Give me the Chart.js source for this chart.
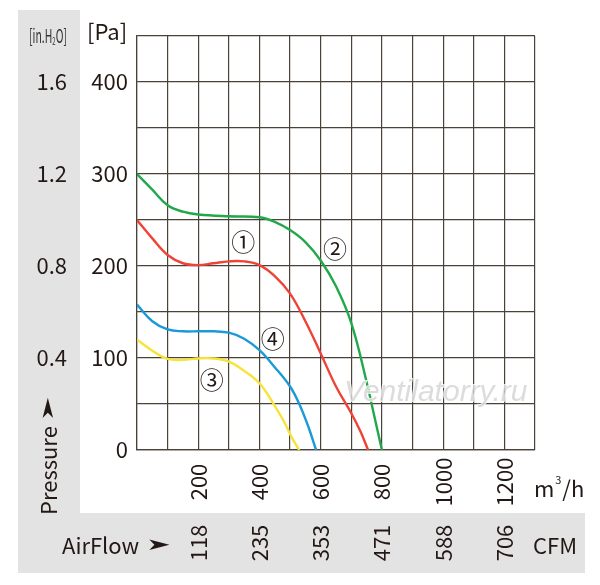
<!DOCTYPE html>
<html>
<head>
<meta charset="utf-8">
<script src="https://cdn.jsdelivr.net/npm/chart.js@4/dist/chart.umd.min.js"></script>
<style>
html,body{margin:0;padding:0;background:#fff;}
canvas{display:block;}
</style>
</head>
<body>
<canvas id="c" width="600" height="585"></canvas>
<script>
// ---- data ----
const flow1 = [0, 50, 100, 150, 200, 250, 300, 350, 400, 450, 500, 550, 600, 650, 700, 730, 755];
const pres1 = [250, 230, 212, 203, 201, 203, 205, 205, 201, 189, 170, 140, 105, 69, 40, 20, 0];
const flow2 = [0, 50, 100, 150, 200, 300, 400, 450, 500, 550, 600, 650, 700, 750, 775, 800];
const pres2 = [300, 283, 266, 259, 256, 254, 253, 248, 239, 226, 206, 178, 138, 74, 37, 0];
const flow3 = [0, 50, 100, 150, 200, 250, 300, 350, 400, 450, 480, 505, 530];
const pres3 = [120, 108, 99, 98, 99.5, 99.5, 96, 86, 72.5, 48, 31, 14, 0];
const flow4 = [0, 50, 100, 150, 200, 250, 300, 350, 400, 450, 500, 530, 560, 585];
const pres4 = [158, 140, 131, 129, 129, 129, 127.5, 121, 108.5, 90, 69, 50, 25, 0];
const curveNames = ['\u2460', '\u2461', '\u2462', '\u2463'];
const curveLabelFlow = [347, 647, 244, 443];
const curveLabelPres = [226, 219, 76, 121];
const curveColors = ['#ee4336', '#21a84b', '#f6e43a', '#1b9ad8'];
const flowTicks = [200, 400, 600, 800, 1000, 1200];
const cfmLabels = ['118', '235', '353', '471', '588', '706'];
const paTicks = [0, 100, 200, 300, 400];
const inH2OLabels = ['', '0.4', '0.8', '1.2', '1.6'];

const flows = [flow1, flow2, flow3, flow4];
const pres = [pres1, pres2, pres3, pres4];
const TXT = '#231815';
const FONT = '"Noto Sans CJK SC", "Noto Sans", sans-serif';

const datasets = flows.map((f, i) => ({
  data: f.map((x, j) => ({x: x, y: pres[i][j]})),
  borderColor: curveColors[i],
  borderWidth: 2.4,
  showLine: true,
  pointRadius: 0,
  tension: 0.4,
  fill: false
}));

function arrow(ctx, x, y, rot) {
  ctx.save();
  ctx.translate(x, y);
  if (rot) ctx.rotate(rot);
  ctx.scale(1.35, 0.75);
  ctx.font = '22px "DejaVu Sans", sans-serif';
  ctx.textAlign = 'left';
  ctx.textBaseline = 'middle';
  ctx.fillText('\u27A4', 0, 0);
  ctx.restore();
}

const deco = {
  id: 'deco',
  beforeDraw(chart) {
    const ctx = chart.ctx;
    ctx.save();
    ctx.fillStyle = '#fff';
    ctx.fillRect(0, 0, chart.width, chart.height);
    ctx.fillStyle = '#e3e3e3';
    ctx.fillRect(18, 10, 62, 504);
    ctx.fillRect(18, 513, 567, 60);
    ctx.restore();
  },
  afterDatasetsDraw(chart) {
    const ctx = chart.ctx;
    const xs = chart.scales.x, ys = chart.scales.y;
    ctx.save();
    ctx.fillStyle = TXT;
    ctx.font = '24px ' + FONT;
    ctx.textAlign = 'center';
    ctx.textBaseline = 'middle';
    curveNames.forEach((n, i) => {
      ctx.fillText(n, xs.getPixelForValue(curveLabelFlow[i]), ys.getPixelForValue(curveLabelPres[i]));
    });
    ctx.restore();
  },
  afterDraw(chart) {
    const ctx = chart.ctx;
    const xs = chart.scales.x, ys = chart.scales.y;
    ctx.save();
    // watermark
    ctx.font = 'italic 30px "Liberation Sans", sans-serif';
    ctx.textAlign = 'left';
    ctx.textBaseline = 'alphabetic';
    ctx.lineWidth = 2;
    ctx.strokeStyle = 'rgba(255,255,255,0.8)';
    ctx.strokeText('Ventilatorry.ru', 344, 401);
    ctx.fillStyle = 'rgba(205,205,205,0.7)';
    ctx.fillText('Ventilatorry.ru', 344, 401);

    ctx.fillStyle = TXT;
    ctx.font = '22px ' + FONT;
    ctx.textBaseline = 'middle';
    ctx.textAlign = 'right';
    paTicks.forEach((v, i) => {
      const y = ys.getPixelForValue(v);
      ctx.fillText(String(v), 128, y);
      if (inH2OLabels[i]) ctx.fillText(inH2OLabels[i], 67, y);
    });
    ctx.textAlign = 'left';
    ctx.fillText('[Pa]', 87, 32);
    // [in.H2O] condensed
    ctx.save();
    ctx.translate(29, 36);
    ctx.scale(0.55, 1);
    ctx.font = '19px ' + FONT;
    ctx.fillStyle = '#333';
    let w = 0;
    ctx.fillText('[in.H', 0, 0); w += ctx.measureText('[in.H').width;
    ctx.font = '11px ' + FONT;
    ctx.fillText('2', w, 5); w += ctx.measureText('2').width;
    ctx.font = '19px ' + FONT;
    ctx.fillText('O]', w, 0);
    ctx.restore();
    // x tick labels rotated
    ctx.font = '22px ' + FONT;
    flowTicks.forEach((v, i) => {
      const x = xs.getPixelForValue(v);
      ctx.save();
      ctx.translate(x, 482);
      ctx.rotate(-Math.PI / 2);
      ctx.textAlign = 'center';
      ctx.textBaseline = 'middle';
      ctx.fillText(String(v), 0, 0);
      ctx.restore();
      ctx.save();
      ctx.translate(x, 543);
      ctx.rotate(-Math.PI / 2);
      ctx.textAlign = 'center';
      ctx.textBaseline = 'middle';
      ctx.fillText(cfmLabels[i], 0, 0);
      ctx.restore();
    });
    // units
    ctx.textAlign = 'left';
    ctx.textBaseline = 'middle';
    ctx.fillText('m', 534, 489);
    const mw = ctx.measureText('m').width;
    ctx.font = '11px ' + FONT;
    ctx.fillText('3', 534 + mw + 1, 480);
    ctx.font = '22px ' + FONT;
    ctx.fillText('/h', 534 + mw + 8, 489);
    ctx.fillText('CFM', 533, 546);
    ctx.fillText('AirFlow', 62, 546);
    arrow(ctx, 146, 546, 0);
    // Pressure label rotated
    ctx.save();
    ctx.translate(49, 515);
    ctx.rotate(-Math.PI / 2);
    ctx.textAlign = 'left';
    ctx.textBaseline = 'middle';
    ctx.font = '22px ' + FONT;
    ctx.fillText('Pressure', 0, 0);
    const pw = ctx.measureText('Pressure').width;
    ctx.restore();
    arrow(ctx, 49, 515 - pw - 5, -Math.PI / 2);
    ctx.restore();
  }
};

const gridColor = '#4a4138';
new Chart(document.getElementById('c'), {
  type: 'scatter',
  data: {datasets: datasets},
  options: {
    responsive: false,
    animation: false,
    events: [],
    layout: {padding: {left: 137, top: 36, right: 65, bottom: 135}},
    plugins: {legend: {display: false}, tooltip: {enabled: false}},
    scales: {
      x: {
        type: 'linear', min: 0, max: 1300,
        ticks: {display: false, stepSize: 100},
        grid: {color: gridColor, lineWidth: 1.2, drawTicks: false},
        border: {color: gridColor, width: 1.2}
      },
      y: {
        type: 'linear', min: 0, max: 450,
        ticks: {display: false, stepSize: 50},
        grid: {color: gridColor, lineWidth: 1.2, drawTicks: false},
        border: {color: gridColor, width: 1.2}
      }
    }
  },
  plugins: [deco]
});
</script>
</body>
</html>
